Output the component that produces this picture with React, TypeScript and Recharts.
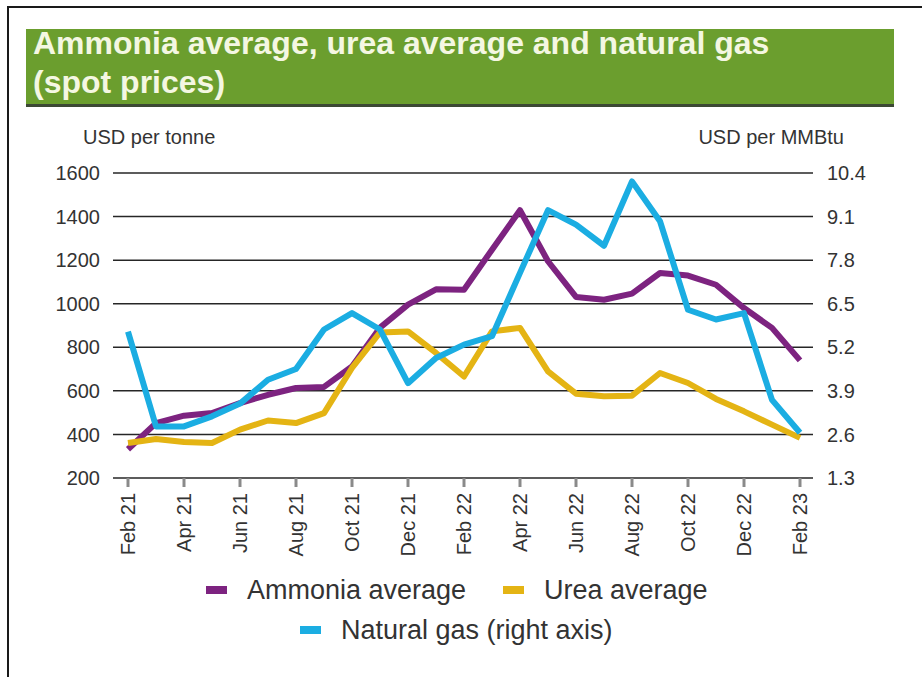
import React from "react"
import { LineChart, Line, XAxis, YAxis, CartesianGrid } from "recharts"

const months = [
  "Feb 21", "Mar 21", "Apr 21", "May 21", "Jun 21", "Jul 21", "Aug 21", "Sep 21",
  "Oct 21", "Nov 21", "Dec 21", "Jan 22", "Feb 22", "Mar 22", "Apr 22", "May 22",
  "Jun 22", "Jul 22", "Aug 22", "Sep 22", "Oct 22", "Nov 22", "Dec 22", "Jan 23", "Feb 23",
]

// USD per tonne
const ammonia = [
  332, 452, 486, 498, 544, 582, 613, 618, 712, 890, 996, 1066, 1064, 1248, 1429, 1195,
  1031, 1018, 1046, 1141, 1129, 1087, 980, 889, 740,
]
const urea = [
  361, 379, 365, 361, 422, 464, 452, 498, 705, 868, 873, 774, 666, 873, 889, 689,
  587, 575, 578, 682, 636, 563, 506, 445, 384,
]

// USD per MMBtu (right axis)
const naturalGas = [
  5.67, 2.84, 2.84, 3.14, 3.52, 4.23, 4.55, 5.73, 6.22, 5.73, 4.13, 4.88, 5.28, 5.53, 7.42, 9.29,
  8.86, 8.23, 10.15, 8.96, 6.32, 6.03, 6.22, 3.63, 2.65,
]

const leftTicks = [200, 400, 600, 800, 1000, 1200, 1400, 1600]
const rightTicks = [1.3, 2.6, 3.9, 5.2, 6.5, 7.8, 9.1, 10.4]

const PURPLE = "#7d2380"
const YELLOW = "#e4b414"
const BLUE = "#1badE2"
const GREEN = "#6b9e2e"
const TEXT = "#333"
const FONT = "'Liberation Sans', Arial, sans-serif"

const data = months.map((m, i) => ({
  month: m,
  ammonia: ammonia[i],
  urea: urea[i],
  gas: naturalGas[i],
}))

function MonthTick({ x, y, payload }: any) {
  return (
    <text
      x={x}
      y={y}
      transform={`rotate(-90 ${x} ${y})`}
      textAnchor="end"
      dominantBaseline="central"
      fill={TEXT}
      fontSize={20}
      fontFamily={FONT}
    >
      {payload.value}
    </text>
  )
}

function LegendItem({ color, label, width }: { color: string; label: string; width: number }) {
  return (
    <div style={{ display: "flex", alignItems: "center", width }}>
      <div style={{ width: 21, height: 8, background: color, marginRight: 20 }} />
      <span>{label}</span>
    </div>
  )
}

export default function App() {
  const tickStyle = { fill: TEXT, fontSize: 20, fontFamily: FONT }
  return (
    <div style={{ position: "absolute", left: 0, top: 0, width: 922, height: 677, overflow: "hidden", background: "#fff", fontFamily: FONT }}>
      <div style={{ position: "absolute", left: 7, top: 6, width: 940, height: 700, borderLeft: "2px solid #1a1a1a", borderTop: "2px solid #1a1a1a" }} />

      <div style={{ position: "absolute", left: 26, top: 29, width: 868, height: 75, background: GREEN, borderBottom: "3px solid #3c4834" }} />
      <div style={{ position: "absolute", left: 33, top: 24, fontSize: 32, lineHeight: "39px", fontWeight: "bold", color: "#f4f7e2", whiteSpace: "nowrap" }}>
        Ammonia average, urea average and natural gas
        <br />
        (spot prices)
      </div>

      <div style={{ position: "absolute", left: 83, top: 125, fontSize: 20, color: TEXT, lineHeight: "24px" }}>USD per tonne</div>
      <div style={{ position: "absolute", right: 922 - 844, top: 125, fontSize: 20, color: TEXT, lineHeight: "24px", textAlign: "right" }}>USD per MMBtu</div>

      <div style={{ position: "absolute", left: 0, top: 0 }}>
        <LineChart width={922} height={560} data={data} margin={{ top: 173, right: 0, bottom: 0, left: 0 }}>
          <CartesianGrid yAxisId="left" vertical={false} stroke="#262626" strokeWidth={1.5} />
          <XAxis
            dataKey="month"
            interval={1}
            height={82}
            padding={{ left: 15, right: 13 }}
            axisLine={false}
            tickSize={9}
            tickMargin={6}
            tickLine={{ stroke: "#8a8a8a", strokeWidth: 3 }}
            tick={<MonthTick />}
          />
          <YAxis
            yAxisId="left"
            domain={[200, 1600]}
            ticks={leftTicks}
            width={113}
            axisLine={false}
            tickLine={false}
            tickSize={0}
            tickMargin={13}
            tick={tickStyle}
          />
          <YAxis
            yAxisId="right"
            orientation="right"
            domain={[1.3, 10.4]}
            ticks={rightTicks}
            width={109}
            axisLine={false}
            tickLine={false}
            tickSize={0}
            tickMargin={14}
            tick={tickStyle}
            tickFormatter={(v: number) => v.toFixed(1)}
          />
          <Line yAxisId="left" type="linear" dataKey="ammonia" stroke={PURPLE} strokeWidth={6} dot={false} strokeLinejoin="round" isAnimationActive={false} />
          <Line yAxisId="left" type="linear" dataKey="urea" stroke={YELLOW} strokeWidth={6} dot={false} strokeLinejoin="round" isAnimationActive={false} />
          <Line yAxisId="right" type="linear" dataKey="gas" stroke={BLUE} strokeWidth={6} dot={false} strokeLinejoin="round" isAnimationActive={false} />
        </LineChart>
      </div>

      <div style={{ position: "absolute", left: 206, top: 573, fontSize: 27, color: TEXT, lineHeight: "34px", display: "flex" }}>
        <LegendItem color={PURPLE} label="Ammonia average" width={297} />
        <LegendItem color={YELLOW} label="Urea average" width={230} />
      </div>
      <div style={{ position: "absolute", left: 300, top: 613, fontSize: 27, color: TEXT, lineHeight: "34px", display: "flex" }}>
        <LegendItem color={BLUE} label="Natural gas (right axis)" width={340} />
      </div>
    </div>
  )
}
